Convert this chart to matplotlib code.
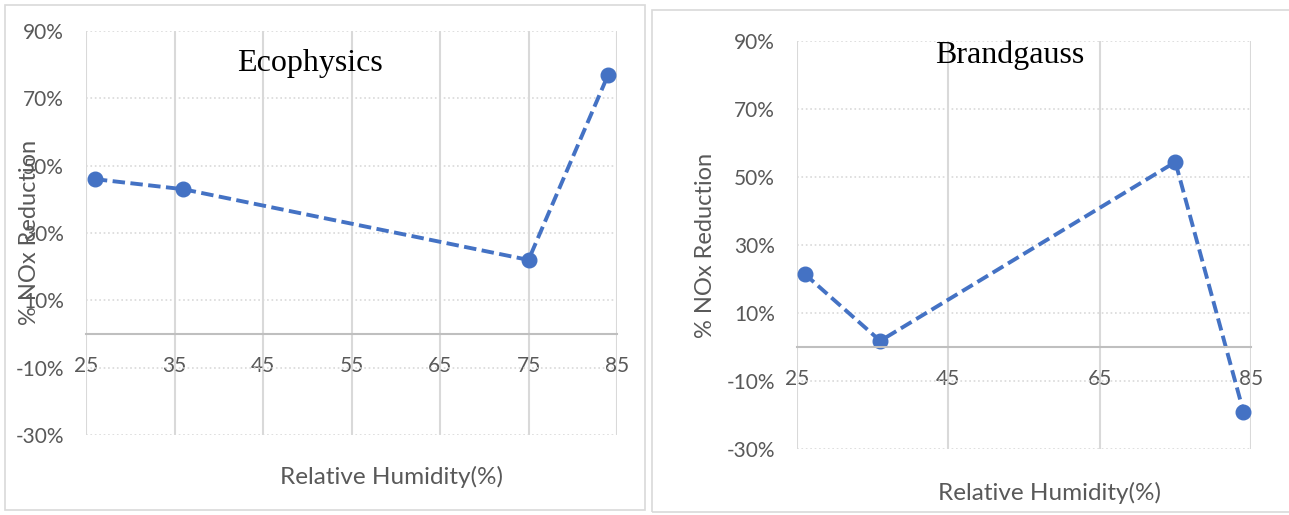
import numpy as np
import matplotlib.pyplot as plt
from matplotlib.patches import Rectangle

# Datos medidos
humedad = [26, 36, 75, 84]
eco = [46, 43, 22, 77]
brand = [21.5, 1.8, 54.4, -19]

ticks_y = [-30, -10, 10, 30, 50, 70, 90]
ticks_x_eco = [25, 35, 45, 55, 65, 75, 85]
ticks_x_brand = [25, 45, 65, 85]

W, H = 1289, 515
azul = '#4472C4'
gris = '#595959'
grid = '#D9D9D9'

fig = plt.figure(figsize=(W/100, H/100), dpi=100)

# marcos de cada panel
fig.patches.append(Rectangle((5/W, 1-510/H), 640/W, 505/H, transform=fig.transFigure,
                             fill=False, edgecolor='#D9D9D9', lw=1.2))
fig.patches.append(Rectangle((652/W, 1-512/H), 660/W, 502/H, transform=fig.transFigure,
                             fill=False, edgecolor='#D9D9D9', lw=1.2))

def panel(x0, x1, y0, y1, xs, ys, xt, titulo, tpos, ypos, xlpos):
    ax = fig.add_axes([x0/W, 1-y1/H, (x1-x0)/W, (y1-y0)/H])
    ax.set_xlim(25, 85)
    ax.set_ylim(-30, 90)
    ax.set_xticks(xt)
    ax.set_yticks(ticks_y)
    ax.set_yticklabels([f'{t}%' for t in ticks_y])
    for s in ['top', 'right', 'left']:
        ax.spines[s].set_visible(False)
    ax.spines['bottom'].set_position(('data', 0))
    ax.spines['bottom'].set_color('#BFBFBF')
    ax.spines['bottom'].set_linewidth(1.5)
    ax.tick_params(length=0, labelsize=15, labelcolor=gris)
    ax.tick_params(axis='y', pad=16)
    ax.tick_params(axis='x', pad=16)
    for t in ax.get_xticklabels() + ax.get_yticklabels():
        t.set_fontfamily('Lato')
    ax.grid(axis='y', linestyle=':', color=grid, lw=1.2)
    ax.grid(axis='x', linestyle='-', color=grid, lw=1.5)
    ax.set_axisbelow(True)
    ax.plot(xs, ys, '--', color=azul, lw=2.8, dashes=(3.2, 1.4), marker='o', ms=10.5, clip_on=False)
    fig.text(tpos[0]/W, 1-tpos[1]/H, titulo, family='Liberation Serif', fontsize=23,
             ha='center', va='center', color='black')
    fig.text(ypos[0]/W, 1-ypos[1]/H, '% NOx Reduction', rotation=90, family='Lato',
             fontsize=17, color=gris, ha='center', va='center')
    fig.text(xlpos[0]/W, 1-xlpos[1]/H, 'Relative Humidity(%)', family='Lato',
             fontsize=17.5, color=gris, ha='center', va='center')
    return ax

panel(86, 617, 31, 435, humedad, eco, ticks_x_eco, 'Ecophysics', (310, 63), (30, 232), (392, 477))
panel(797, 1251, 41, 449, humedad, brand, ticks_x_brand, 'Brandgauss', (1010, 55), (705, 245), (1050, 493))

plt.savefig('out.png', dpi=100)
